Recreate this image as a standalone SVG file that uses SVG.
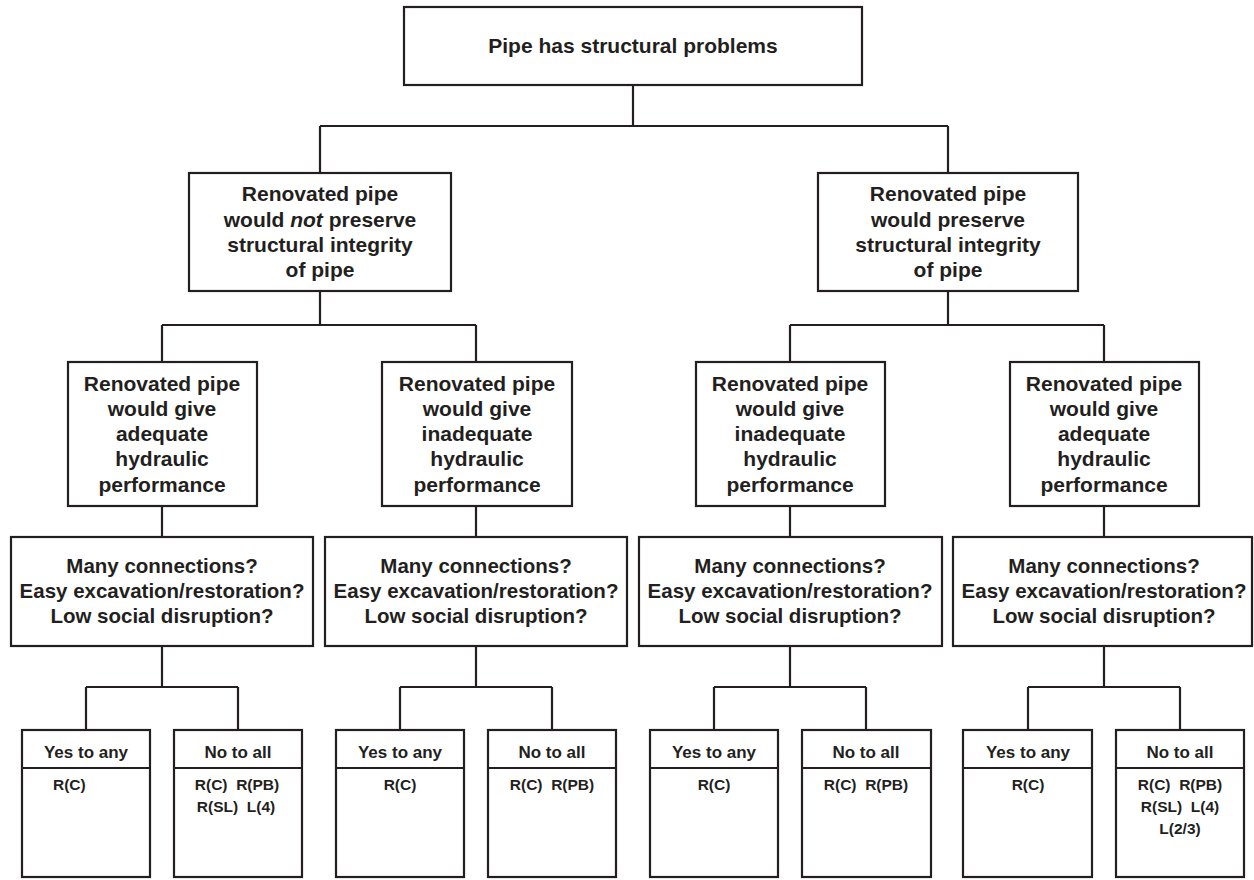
<svg xmlns="http://www.w3.org/2000/svg" width="1254" height="880" viewBox="0 0 1254 880">
<style>
.box{fill:#fff;stroke:#231f20;stroke-width:2.2}
.ln{fill:none;stroke:#231f20;stroke-width:2.2}
text{font-family:"Liberation Sans",Arial,sans-serif;font-weight:bold;fill:#231f20;text-anchor:middle}
.t1{font-size:21px}
.t2{font-size:21px}
.tq{font-size:20.5px}
.th{font-size:17px}
.tl{font-size:15.5px}
</style>
<rect width="1254" height="880" fill="#fff"/>
<g id="connectors">
<path class="ln" d="M633 85V126M320 126H948M320 126V173M948 126V173"/>
<path class="ln" d="M320 291V325M162 325H476M162 325V362M476 325V362"/>
<path class="ln" d="M948 291V325M790 325H1104M790 325V362M1104 325V362"/>
<path class="ln" d="M162 506V537M476 506V537M790 506V537M1104 506V537"/>
<path class="ln" d="M162 646V687M86 687H238M86 687V730M238 687V730"/>
<path class="ln" d="M476 646V687M400 687H552M400 687V730M552 687V730"/>
<path class="ln" d="M790 646V687M714 687H866M714 687V730M866 687V730"/>
<path class="ln" d="M1104 646V687M1028 687H1180M1028 687V730M1180 687V730"/>
</g>
<g id="root">
<rect class="box" x="404" y="7" width="458" height="78"/>
<text class="t1" x="633" y="53">Pipe has structural problems</text>
</g>
<g id="notPreserve">
<rect class="box" x="189" y="173" width="262" height="118"/>
<text class="t2" x="320" y="201">Renovated pipe</text>
<text class="t2" x="320" y="227">would <tspan font-style="italic">not</tspan> preserve</text>
<text class="t2" x="320" y="252">structural integrity</text>
<text class="t2" x="320" y="277">of pipe</text>
</g>
<g id="preserve">
<rect class="box" x="818" y="173" width="260" height="118"/>
<text class="t2" x="948" y="201">Renovated pipe</text>
<text class="t2" x="948" y="227">would preserve</text>
<text class="t2" x="948" y="252">structural integrity</text>
<text class="t2" x="948" y="277">of pipe</text>
</g>
<g id="h1">
<rect class="box" x="68" y="362" width="189" height="144"/>
<text class="t2" x="162" y="391">Renovated pipe</text>
<text class="t2" x="162" y="416">would give</text>
<text class="t2" x="162" y="441">adequate</text>
<text class="t2" x="162" y="466">hydraulic</text>
<text class="t2" x="162" y="492">performance</text>
</g>
<g id="h2">
<rect class="box" x="382" y="362" width="190" height="144"/>
<text class="t2" x="477" y="391">Renovated pipe</text>
<text class="t2" x="477" y="416">would give</text>
<text class="t2" x="477" y="441">inadequate</text>
<text class="t2" x="477" y="466">hydraulic</text>
<text class="t2" x="477" y="492">performance</text>
</g>
<g id="h3">
<rect class="box" x="696" y="362" width="189" height="144"/>
<text class="t2" x="790" y="391">Renovated pipe</text>
<text class="t2" x="790" y="416">would give</text>
<text class="t2" x="790" y="441">inadequate</text>
<text class="t2" x="790" y="466">hydraulic</text>
<text class="t2" x="790" y="492">performance</text>
</g>
<g id="h4">
<rect class="box" x="1010" y="362" width="189" height="144"/>
<text class="t2" x="1104" y="391">Renovated pipe</text>
<text class="t2" x="1104" y="416">would give</text>
<text class="t2" x="1104" y="441">adequate</text>
<text class="t2" x="1104" y="466">hydraulic</text>
<text class="t2" x="1104" y="492">performance</text>
</g>
<g id="q1">
<rect class="box" x="11" y="537" width="302" height="109"/>
<text class="tq" x="162" y="573">Many connections?</text>
<text class="tq" x="162" y="598">Easy excavation/restoration?</text>
<text class="tq" x="162" y="623">Low social disruption?</text>
</g>
<g id="q2">
<rect class="box" x="325" y="537" width="302" height="109"/>
<text class="tq" x="476" y="573">Many connections?</text>
<text class="tq" x="476" y="598">Easy excavation/restoration?</text>
<text class="tq" x="476" y="623">Low social disruption?</text>
</g>
<g id="q3">
<rect class="box" x="639" y="537" width="303" height="109"/>
<text class="tq" x="790" y="573">Many connections?</text>
<text class="tq" x="790" y="598">Easy excavation/restoration?</text>
<text class="tq" x="790" y="623">Low social disruption?</text>
</g>
<g id="q4">
<rect class="box" x="953" y="537" width="299" height="109"/>
<text class="tq" x="1104" y="573">Many connections?</text>
<text class="tq" x="1104" y="598">Easy excavation/restoration?</text>
<text class="tq" x="1104" y="623">Low social disruption?</text>
</g>
<g id="leaf1y">
<rect class="box" x="22" y="730" width="128" height="147"/>
<path class="ln" d="M22 768H150"/>
<text class="th" x="86" y="758">Yes to any</text>
<text class="tl" x="53" y="790" style="text-anchor:start">R(C)</text>
</g>
<g id="leaf1n">
<rect class="box" x="174" y="730" width="128" height="147"/>
<path class="ln" d="M174 768H302"/>
<text class="th" x="238" y="758">No to all</text>
<text class="tl" x="237" y="790">R(C)&#160;&#160;R(PB)</text>
<text class="tl" x="236" y="812">R(SL)&#160;&#160;L(4)</text>
</g>
<g id="leaf2y">
<rect class="box" x="336" y="730" width="128" height="147"/>
<path class="ln" d="M336 768H464"/>
<text class="th" x="400" y="758">Yes to any</text>
<text class="tl" x="400" y="790">R(C)</text>
</g>
<g id="leaf2n">
<rect class="box" x="488" y="730" width="128" height="147"/>
<path class="ln" d="M488 768H616"/>
<text class="th" x="552" y="758">No to all</text>
<text class="tl" x="552" y="790">R(C)&#160;&#160;R(PB)</text>
</g>
<g id="leaf3y">
<rect class="box" x="650" y="730" width="128" height="147"/>
<path class="ln" d="M650 768H778"/>
<text class="th" x="714" y="758">Yes to any</text>
<text class="tl" x="714" y="790">R(C)</text>
</g>
<g id="leaf3n">
<rect class="box" x="802" y="730" width="129" height="147"/>
<path class="ln" d="M802 768H931"/>
<text class="th" x="866" y="758">No to all</text>
<text class="tl" x="866" y="790">R(C)&#160;&#160;R(PB)</text>
</g>
<g id="leaf4y">
<rect class="box" x="963" y="730" width="129" height="147"/>
<path class="ln" d="M963 768H1092"/>
<text class="th" x="1028" y="758">Yes to any</text>
<text class="tl" x="1028" y="790">R(C)</text>
</g>
<g id="leaf4n">
<rect class="box" x="1116" y="730" width="128" height="147"/>
<path class="ln" d="M1116 768H1244"/>
<text class="th" x="1180" y="758">No to all</text>
<text class="tl" x="1180" y="790">R(C)&#160;&#160;R(PB)</text>
<text class="tl" x="1180" y="812">R(SL)&#160;&#160;L(4)</text>
<text class="tl" x="1180" y="834">L(2/3)</text>
</g>
</svg>
